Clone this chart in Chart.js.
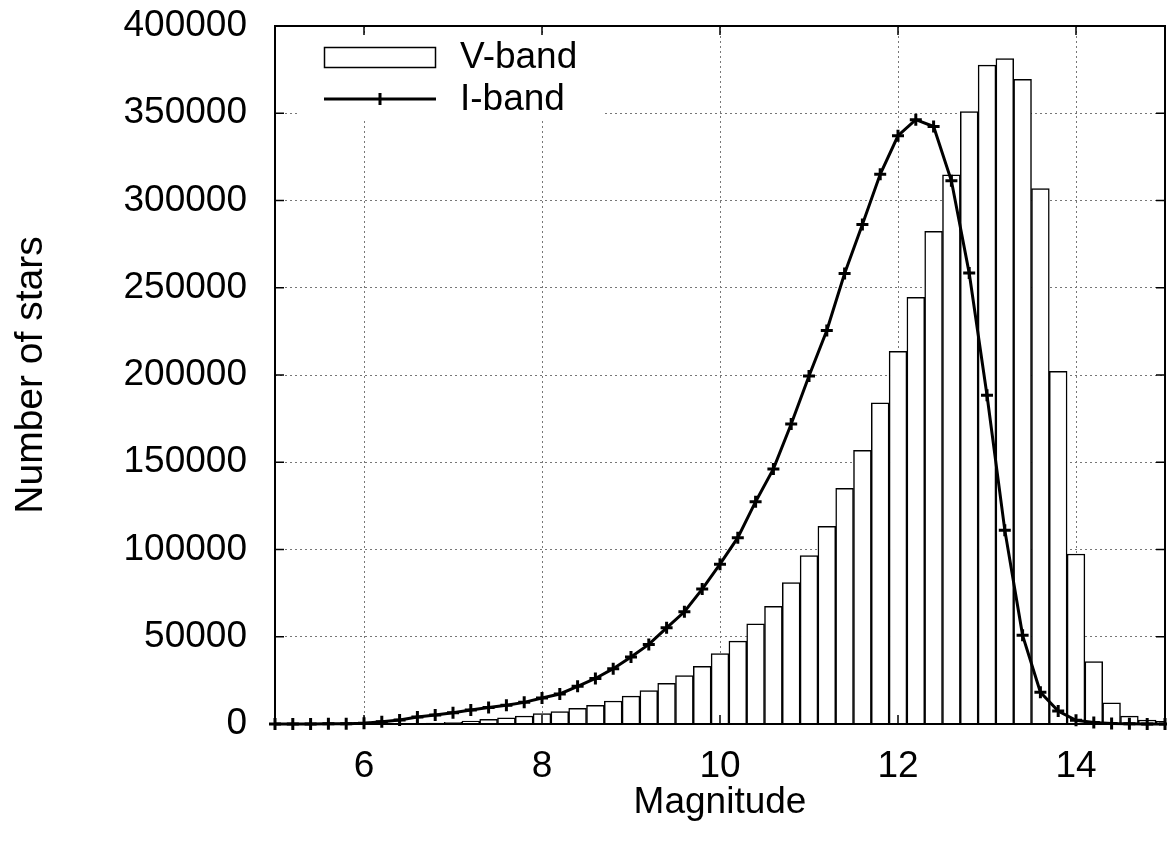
<!DOCTYPE html>
<html>
<head>
<meta charset="utf-8">
<script src="https://cdn.jsdelivr.net/npm/chart.js@4.4.0/dist/chart.umd.min.js"></script>
<style>
  html, body { margin: 0; padding: 0; background: #fff; }
  #wrap { width: 1167px; height: 854px; }
</style>
</head>
<body>
<div id="wrap"><canvas id="magChart" width="1167" height="854"></canvas></div>
<script>
// magnitude bins (bin centres, 0.2 mag wide)
const magnitudes = [
  5.0, 5.2, 5.4, 5.6, 5.8, 6.0, 6.2, 6.4, 6.6, 6.8,
  7.0, 7.2, 7.4, 7.6, 7.8, 8.0, 8.2, 8.4, 8.6, 8.8,
  9.0, 9.2, 9.4, 9.6, 9.8, 10.0, 10.2, 10.4, 10.6, 10.8,
  11.0, 11.2, 11.4, 11.6, 11.8, 12.0, 12.2, 12.4, 12.6, 12.8,
  13.0, 13.2, 13.4, 13.6, 13.8, 14.0, 14.2, 14.4, 14.6, 14.8,
  15.0
];
const vBand = [
  0, 0, 0, 0, 0, 0, 50, 100, 200, 500,
  1000, 1700, 2700, 3600, 4600, 5900, 7100, 9000, 10700, 13200,
  16000, 19100, 23300, 27700, 33100, 40400, 47500, 57400, 67500, 81100,
  96500, 113300, 135100, 156900, 184000, 213600, 244500, 282400, 314700, 351000,
  377600, 381300, 369500, 306800, 202100, 97400, 35800, 12200, 4500, 2300,
  1500
];
const iBand = [
  0, 0, 0, 100, 200, 400, 1300, 2300, 4000, 5200,
  6500, 8000, 9400, 10700, 12400, 14900, 17200, 21600, 26100, 31700,
  38400, 45600, 55100, 64300, 77300, 91600, 106800, 127400, 146200, 171900,
  199400, 225500, 258200, 286300, 315000, 337100, 346300, 342400, 311300, 258400,
  188400, 111100, 50800, 18200, 7400, 2100, 800, 300, 100, 50,
  0
];
const xTicks = [6, 8, 10, 12, 14];
const yTicks = [0, 50000, 100000, 150000, 200000, 250000, 300000, 350000, 400000];

const FONT = "'Liberation Sans', Arial, sans-serif";
const FSIZE = 37;

// gnuplot style frame: border + inward ticks mirrored on all sides, and the key
const framePlugin = {
  id: 'frame',
  afterDraw(chart) {
    const ctx = chart.ctx;
    const a = chart.chartArea;
    const xs = chart.scales.x, ys = chart.scales.y;
    const ds = chart.data.datasets;
    ctx.save();

    // key
    ctx.fillStyle = '#fff';
    ctx.fillRect(298, 36, 306, 82);
    ctx.strokeStyle = '#000';
    ctx.lineWidth = 1.5;
    ctx.strokeRect(324.5, 47.5, 111, 20);
    ctx.lineWidth = 3;
    ctx.beginPath();
    ctx.moveTo(324, 99); ctx.lineTo(436, 99);
    ctx.moveTo(374, 99); ctx.lineTo(386, 99);
    ctx.moveTo(380, 93); ctx.lineTo(380, 105);
    ctx.stroke();
    ctx.fillStyle = '#000';
    ctx.font = FSIZE + 'px ' + FONT;
    ctx.textAlign = 'left';
    ctx.textBaseline = 'alphabetic';
    ctx.fillText(ds[1].label, 460, 68);
    ctx.fillText(ds[0].label, 460, 110);

    // border
    ctx.lineWidth = 2;
    ctx.strokeRect(a.left, a.top, a.right - a.left, a.bottom - a.top);

    // ticks
    const tl = 9;
    ctx.lineWidth = 1.5;
    ctx.beginPath();
    xTicks.forEach(v => {
      const px = xs.getPixelForValue(v);
      ctx.moveTo(px, a.bottom); ctx.lineTo(px, a.bottom - tl);
      ctx.moveTo(px, a.top); ctx.lineTo(px, a.top + tl);
    });
    yTicks.forEach(v => {
      const py = ys.getPixelForValue(v);
      ctx.moveTo(a.left, py); ctx.lineTo(a.left + tl, py);
      ctx.moveTo(a.right, py); ctx.lineTo(a.right - tl, py);
    });
    ctx.stroke();
    ctx.restore();
  }
};

const chartArea = document.getElementById('magChart').getContext('2d');
const magChart = new Chart(chartArea, {
  type: 'line',
  data: {
    datasets: [{
      type: 'line',
      label: 'I-band',
      data: magnitudes.map((m, i) => ({ x: m, y: iBand[i] })),
      borderColor: '#000',
      backgroundColor: '#000',
      borderWidth: 3,
      tension: 0,
      pointStyle: 'cross',
      pointRadius: 6,
      pointBorderWidth: 3,
      pointBorderColor: '#000',
      clip: false,
      order: 0
    }, {
      type: 'bar',
      label: 'V-band',
      data: magnitudes.map((m, i) => ({ x: m, y: vBand[i] })),
      backgroundColor: '#fff',
      borderColor: '#000',
      borderWidth: 1.5,
      barPercentage: 1,
      categoryPercentage: 1,
      order: 1
    }]
  },
  options: {
    responsive: false,
    animation: false,
    layout: { autoPadding: false, padding: { top: 26, right: 2, left: 0, bottom: 0 } },
    plugins: {
      legend: { display: false },
      tooltip: { enabled: false }
    },
    scales: {
      x: {
        type: 'linear',
        min: 5,
        max: 15,
        offset: false,
        z: 1,
        afterBuildTicks: axis => { axis.ticks = xTicks.map(v => ({ value: v })); },
        afterFit: axis => {
          axis.height = 130;
          axis.paddingLeft = 0;
          axis.paddingRight = 0;
        },
        grid: { color: '#777', lineWidth: 1, drawTicks: false, offset: false },
        border: { display: false, dash: [2, 3] },
        ticks: {
          padding: 21,
          color: '#000',
          font: { family: FONT, size: FSIZE },
          maxRotation: 0,
          callback: v => String(v)
        },
        title: {
          display: true,
          text: 'Magnitude',
          color: '#000',
          font: { family: FONT, size: FSIZE },
          padding: { top: 0, bottom: 29 }
        }
      },
      y: {
        min: 0,
        max: 400000,
        z: 1,
        afterBuildTicks: axis => { axis.ticks = yTicks.map(v => ({ value: v })); },
        afterFit: axis => {
          axis.width = 275;
          axis.paddingTop = 0;
          axis.paddingBottom = 0;
        },
        grid: { color: '#777', lineWidth: 1, drawTicks: false },
        border: { display: false, dash: [2, 3] },
        ticks: {
          padding: 28,
          color: '#000',
          font: { family: FONT, size: FSIZE },
          callback: v => String(v)
        },
        title: {
          display: true,
          text: 'Number of stars',
          color: '#000',
          font: { family: FONT, size: 39 },
          padding: { top: 8, bottom: 0 }
        }
      }
    }
  },
  plugins: [framePlugin]
});
</script>
</body>
</html>
